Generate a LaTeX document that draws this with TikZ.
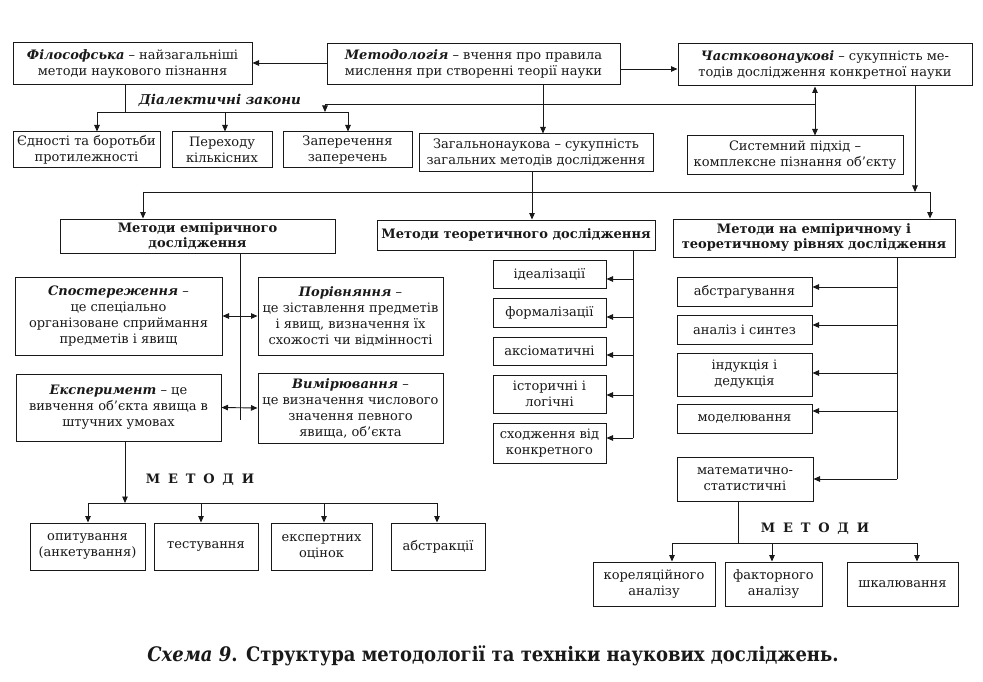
\documentclass[tikz,border=0pt]{standalone}
\usepackage{fontspec}
\setmainfont{DejaVu Serif}
\newfontfamily\capfont{DejaVu Serif Condensed}
\usetikzlibrary{arrows.meta}
\definecolor{ink}{gray}{0.1}
\begin{document}
\begin{tikzpicture}[x=1pt,y=-1pt,
  box/.style={draw=ink, line width=1pt, align=center, inner sep=1pt, text=ink,
    font=\fontsize{13}{16}\selectfont},
  hbox/.style={box, font=\fontsize{13}{15}\selectfont\bfseries},
  lbl/.style={text=ink, inner sep=1pt},
  ln/.style={draw=ink, line width=0.9pt},
  arr/.style={ln, -{Triangle[length=6.5pt,width=5.5pt]}},
  darr/.style={ln, {Triangle[length=6.5pt,width=5.5pt]}-{Triangle[length=6.5pt,width=5.5pt]}},
]
\fill[white] (0,0) rectangle (983,682);
\useasboundingbox (0,0) rectangle (983,682);

% ---------- top row ----------
\node[box, minimum width=239pt, minimum height=42pt] (fil) at (132.5,64)
  {\textbf{\textit{Філософська}} – найзагальніші\\методи наукового пізнання};
\node[box, minimum width=293pt, minimum height=41pt] (met) at (473.5,64.5)
  {\textbf{\textit{Методологія}} – вчення про правила\\мислення при створенні теорії науки};
\node[box, minimum width=294pt, minimum height=42pt] (chast) at (825,65)
  {\textbf{\textit{Частковонаукові}} – сукупність ме-\\тодів дослідження конкретної науки};

\node[box, minimum width=147pt, minimum height=36pt] (ed) at (86.5,150)
  {Єдності та боротьби\\протилежності};
\node[box, minimum width=100pt, minimum height=36pt] (per) at (222,150)
  {Переходу\\кількісних};
\node[box, minimum width=129pt, minimum height=36pt] (zap) at (347.5,150)
  {Заперечення\\заперечень};
\node[box, minimum width=234pt, minimum height=38pt] (zag) at (536,153)
  {Загальнонаукова – сукупність\\загальних методів дослідження};
\node[box, minimum width=216pt, minimum height=39pt] (sys) at (795,155.5)
  {Системний підхід –\\комплексне пізнання об’єкту};

\node[lbl, font=\fontsize{13.5}{16}\selectfont\bfseries\itshape] (dial) at (220,100) {Діалектичні закони};

% ---------- second row ----------
\node[hbox, minimum width=275pt, minimum height=34pt] (emp) at (197.5,236)
  {Методи емпіричного\\дослідження};
\node[hbox, minimum width=278pt, minimum height=30pt] (teor) at (516,235)
  {Методи теоретичного дослідження};
\node[hbox, minimum width=282pt, minimum height=38pt] (both) at (814,238)
  {Методи на емпіричному і\\теоретичному рівнях дослідження};

% ---------- empirical ----------
\node[box, minimum width=207pt, minimum height=78pt] (spost) at (118.5,316)
  {\textbf{\textit{Спостереження}} –\\це спеціально\\організоване сприймання\\предметів і явищ};
\node[box, minimum width=185pt, minimum height=78pt] (por) at (350.5,316)
  {\textbf{\textit{Порівняння}} –\\це зіставлення предметів\\і явищ, визначення їх\\схожості чи відмінності};
\node[box, minimum width=205pt, minimum height=67pt] (eksp) at (118.5,407.5)
  {\textbf{\textit{Експеримент}} – це\\вивчення об’єкта явища в\\штучних умовах};
\node[box, minimum width=185pt, minimum height=70pt] (vym) at (350.5,408)
  {\textbf{\textit{Вимірювання}} –\\це визначення числового\\значення певного\\явища, об’єкта};

\node[box, minimum width=115pt, minimum height=47pt] (op) at (87.5,546.5)
  {опитування\\(анкетування)};
\node[box, minimum width=104pt, minimum height=47pt] (test) at (206,546.5)
  {тестування};
\node[box, minimum width=101pt, minimum height=47pt] (eo) at (321.5,546.5)
  {експертних\\оцінок};
\node[box, minimum width=94pt, minimum height=47pt] (abstr) at (438,546.5)
  {абстракції};
\node[lbl, font=\fontsize{13}{16}\selectfont\bfseries] (metL) at (200,480)
  {М\hspace{0.6em}Е\hspace{0.6em}Т\hspace{0.6em}О\hspace{0.6em}Д\hspace{0.6em}И};

% ---------- theoretical ----------
\node[box, minimum width=113pt, minimum height=28pt] (ideal) at (549.5,274) {ідеалізації};
\node[box, minimum width=113pt, minimum height=29pt] (form) at (549.5,312.5) {формалізації};
\node[box, minimum width=113pt, minimum height=28pt] (aks) at (549.5,351) {аксіоматичні};
\node[box, minimum width=113pt, minimum height=38pt] (ist) at (549.5,394) {історичні і\\логічні};
\node[box, minimum width=113pt, minimum height=40pt] (skh) at (549.5,443) {сходження від\\конкретного};

% ---------- both levels ----------
\node[box, minimum width=135pt, minimum height=29pt] (abs) at (744.5,291.5) {абстрагування};
\node[box, minimum width=135pt, minimum height=29pt] (an) at (744.5,329.5) {аналіз і синтез};
\node[box, minimum width=135pt, minimum height=43pt] (ind) at (744.5,374.5) {індукція і\\дедукція};
\node[box, minimum width=135pt, minimum height=29pt] (mod) at (744.5,418.5) {моделювання};
\node[box, minimum width=136pt, minimum height=44pt] (mat) at (745,479) {математично-\\статистичні};

\node[box, minimum width=122pt, minimum height=44pt] (kor) at (654,584) {кореляційного\\аналізу};
\node[box, minimum width=97pt, minimum height=44pt] (fak) at (773.5,584) {факторного\\аналізу};
\node[box, minimum width=111pt, minimum height=44pt] (shk) at (902.5,584) {шкалювання};
\node[lbl, font=\fontsize{13}{16}\selectfont\bfseries] (metR) at (815,529)
  {М\hspace{0.6em}Е\hspace{0.6em}Т\hspace{0.6em}О\hspace{0.6em}Д\hspace{0.6em}И};

% ---------- caption ----------
\node[lbl, font=\capfont\fontsize{20}{24}\selectfont\bfseries] (cap) at (493,656)
  {\textit{Схема 9}. Структура методології та техніки наукових досліджень.};

% ---------- connectors: top ----------
\coordinate (yL) at (0,63);
\coordinate (yR) at (0,69);
\draw[arr] (met.west |- yL) -- (fil.east |- yL);
\draw[arr] (met.east |- yR) -- (chast.west |- yR);

\coordinate (dA) at (125,112);
\coordinate (dL) at (97,112);
\coordinate (dM) at (225,112);
\coordinate (dR) at (348,112);
\draw[ln] (fil.south -| dA) -- (dA);
\draw[ln] (dL) -- (dR);
\draw[arr] (dL) -- (dL |- ed.north);
\draw[arr] (dM) -- (dM |- per.north);
\draw[arr] (dR) -- (dR |- zap.north);

\coordinate (uL) at (325,104);
\coordinate (uR) at (815,104);
\draw[ln] (uR) -- (uL);
\draw[arr] (uL) -- (uL |- dL);
\draw[darr] (chast.south -| uR) -- (sys.north -| uR);

\coordinate (mx) at (543,0);
\draw[arr] (met.south -| mx) -- (zag.north -| mx);

\coordinate (hL) at (143,192);
\coordinate (hR) at (930,192);
\coordinate (cx) at (915,192);
\coordinate (zx) at (532,192);
\draw[ln] (hL) -- (hR);
\draw[arr] (chast.south -| cx) -- (cx);
\draw[arr] (hL) -- (hL |- emp.north);
\draw[arr] (hR) -- (hR |- both.north);
\draw[arr] (zag.south -| zx) -- (teor.north -| zx);

% ---------- connectors: empirical ----------
\coordinate (ev) at (240,420);
\draw[ln] (emp.south -| ev) -- (ev);
\draw[darr] (spost.east) -- (por.west);
\draw[darr] (eksp.east) -- (vym.west);

\coordinate (xv) at (125,503);
\coordinate (xL) at (88,503);
\coordinate (x2) at (201,503);
\coordinate (x3) at (324,503);
\coordinate (xR) at (437,503);
\draw[arr] (eksp.south -| xv) -- (xv);
\draw[ln] (xL) -- (xR);
\draw[arr] (xL) -- (op.north -| xL);
\draw[arr] (x2) -- (test.north -| x2);
\draw[arr] (x3) -- (eo.north -| x3);
\draw[arr] (xR) -- (abstr.north -| xR);

% ---------- connectors: theoretical ----------
\coordinate (tv) at (633,438);
\coordinate (t1) at (633,279);
\coordinate (t2) at (633,317);
\coordinate (t3) at (633,355);
\coordinate (t4) at (633,395);
\draw[ln] (teor.south -| tv) -- (tv);
\draw[arr] (t1) -- (t1 -| ideal.east);
\draw[arr] (t2) -- (t2 -| form.east);
\draw[arr] (t3) -- (t3 -| aks.east);
\draw[arr] (t4) -- (t4 -| ist.east);
\draw[arr] (tv) -- (tv -| skh.east);

% ---------- connectors: both levels ----------
\coordinate (bv) at (897,479);
\coordinate (r1) at (897,287);
\coordinate (r2) at (897,325);
\coordinate (r3) at (897,373);
\coordinate (r4) at (897,411);
\draw[ln] (both.south -| bv) -- (bv);
\draw[arr] (r1) -- (r1 -| abs.east);
\draw[arr] (r2) -- (r2 -| an.east);
\draw[arr] (r3) -- (r3 -| ind.east);
\draw[arr] (r4) -- (r4 -| mod.east);
\draw[arr] (bv) -- (bv -| mat.east);

\coordinate (mv) at (738,543);
\coordinate (mL) at (672,543);
\coordinate (mM) at (772,543);
\coordinate (mR) at (917,543);
\draw[ln] (mat.south -| mv) -- (mv);
\draw[ln] (mL) -- (mR);
\draw[arr] (mL) -- (kor.north -| mL);
\draw[arr] (mM) -- (fak.north -| mM);
\draw[arr] (mR) -- (shk.north -| mR);
\end{tikzpicture}
\end{document}
